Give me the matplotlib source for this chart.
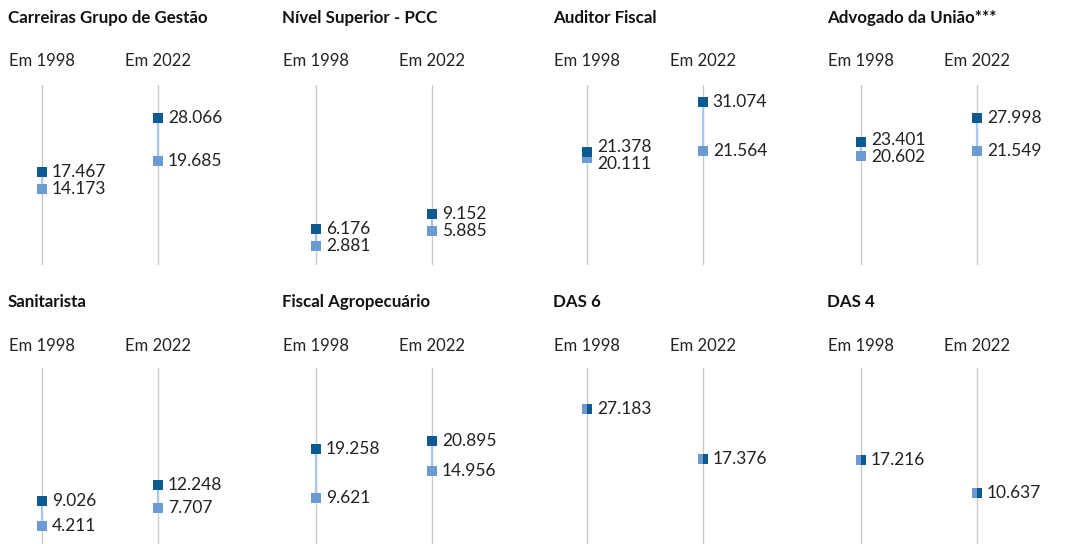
import matplotlib
matplotlib.use('Agg')
import matplotlib.pyplot as plt

plt.rcParams['font.family'] = ['Lato', 'DejaVu Sans']

titles = ['Carreiras Grupo de Gestão', 'Nível Superior - PCC', 'Auditor Fiscal', 'Advogado da União***',
          'Sanitarista', 'Fiscal Agropecuário', 'DAS 6', 'DAS 4']
years = ['Em 1998', 'Em 2022']
# higher value (dark) and lower value (light), per year
high_1998 = [17467, 6176, 21378, 23401, 9026, 19258, 27183, 17216]
low_1998 = [14173, 2881, 20111, 20602, 4211, 9621, 27183, 17216]
high_2022 = [28066, 9152, 31074, 27998, 12248, 20895, 17376, 10637]
low_2022 = [19685, 5885, 21564, 21549, 7707, 14956, 17376, 10637]

DARK = '#0d5a93'
LIGHT = '#6b9bd2'
LINK = '#a9c8ea'
GRID = '#c9c9c9'
TXT = '#222222'

W, H = 1077, 544
fig = plt.figure(figsize=(W / 100, H / 100), dpi=100)


def fmt(v):
    return f'{v:,}'.replace(',', '.')


offsets = [0, 274, 545, 819]
rows = [dict(top=85, bottom=265, ylim=(-0.8, 34.5), title_y=18, year_y=61),
        dict(top=368, bottom=548, ylim=(-0.1, 35.2), title_y=302, year_y=346)]

for i, title in enumerate(titles):
    r = rows[i // 4]
    off = offsets[i % 4]
    ax = fig.add_axes([off / W, 1 - r['bottom'] / H, 270 / W, (r['bottom'] - r['top']) / H])
    ax.set_xlim(-42 / 116, 270 / 116 - 42 / 116)
    ax.set_ylim(*r['ylim'])
    ax.axis('off')

    fig.text((off + 8) / W, 1 - r['title_y'] / H, title, fontsize=12.2, fontweight='bold',
             color='#111111', va='center', ha='left')

    pairs = [(high_1998[i] / 1000, low_1998[i] / 1000, high_1998[i], low_1998[i]),
             (high_2022[i] / 1000, low_2022[i] / 1000, high_2022[i], low_2022[i])]
    for x, (hi, lo, hv, lv) in enumerate(pairs):
        ax.axvline(x, color=GRID, lw=1, zorder=1)
        fig.text((off + 42 + 116 * x) / W, 1 - r['year_y'] / H, years[x], fontsize=12,
                 color=TXT, ha='center', va='center')
        if hv == lv:
            ax.plot([x], [hi], marker='s', ms=7.8, mew=0, color=DARK, fillstyle='right',
                    markerfacecoloralt=LIGHT, zorder=3)
            ax.annotate(fmt(hv), (x, hi), xytext=(7, 0), textcoords='offset points',
                        fontsize=12.5, color=TXT, va='center', ha='left')
            continue
        ax.plot([x, x], [lo, hi], color=LINK, lw=1.6, zorder=2)
        ax.plot([x], [lo], marker='s', ms=7.8, mew=0, color=LIGHT, zorder=3)
        ax.plot([x], [hi], marker='s', ms=7.8, mew=0, color=DARK, zorder=4)
        # keep the two labels apart
        py_hi = ax.transData.transform((x, hi))[1]
        py_lo = ax.transData.transform((x, lo))[1]
        gap = py_hi - py_lo
        push = max(0, (17 - gap) / 2) * 0.72
        ax.annotate(fmt(hv), (x, hi), xytext=(7, push), textcoords='offset points',
                    fontsize=12.5, color=TXT, va='center', ha='left')
        ax.annotate(fmt(lv), (x, lo), xytext=(7, -push), textcoords='offset points',
                    fontsize=12.5, color=TXT, va='center', ha='left')

fig.savefig('out.png', dpi=100, facecolor='white')
